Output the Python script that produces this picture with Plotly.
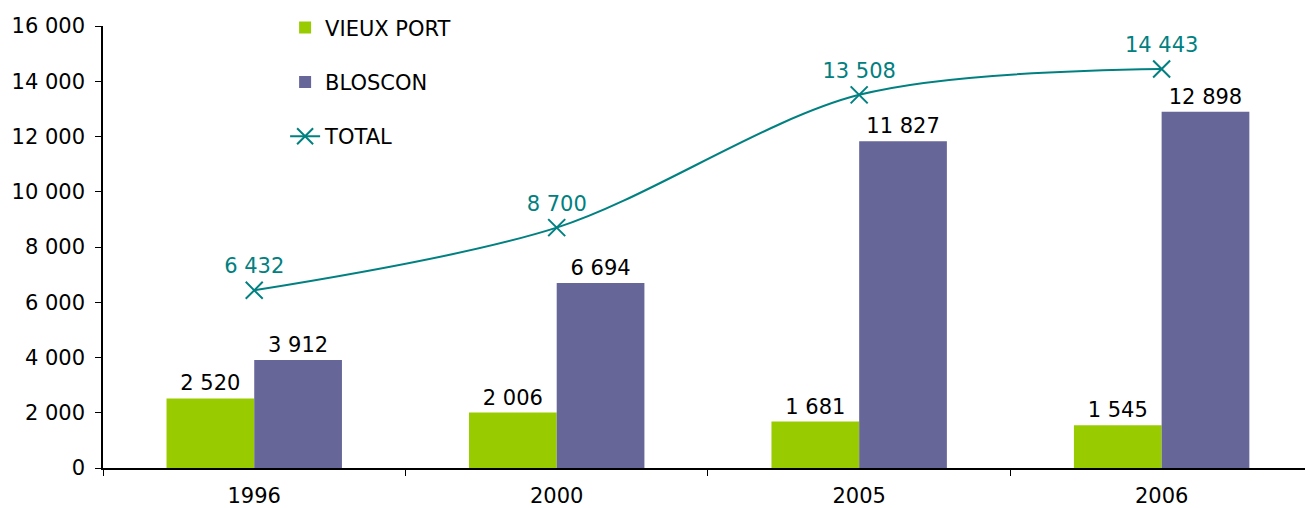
import plotly.graph_objects as go

years = ["1996", "2000", "2005", "2006"]
vieux_port = [2520, 2006, 1681, 1545]
bloscon = [3912, 6694, 11827, 12898]
total = [6432, 8700, 13508, 14443]
y_ticks = [0, 2000, 4000, 6000, 8000, 10000, 12000, 14000, 16000]

GREEN = "#99CC00"
PURPLE = "#666699"
TEAL = "#008080"
FONT = "DejaVu Sans"

fig = go.Figure()
fig.add_trace(go.Bar(
    x=years, y=vieux_port, name="VIEUX PORT",
    marker=dict(color=GREEN, line=dict(width=0)),
    texttemplate="%{y:,d}", textposition="outside",
    textfont=dict(color="black", size=21, family=FONT),
    cliponaxis=False, legendgroup="a",
))
fig.add_trace(go.Bar(
    x=years, y=bloscon, name="BLOSCON",
    marker=dict(color=PURPLE, line=dict(width=0)),
    texttemplate="%{y:,d}", textposition="outside",
    textfont=dict(color="black", size=21, family=FONT),
    cliponaxis=False, legendgroup="b",
))
fig.add_trace(go.Scatter(
    x=years, y=total, name="TOTAL", mode="lines+markers+text",
    line=dict(color=TEAL, width=2, shape="spline", smoothing=0.9),
    marker=dict(symbol="x-thin", size=17, line=dict(color=TEAL, width=2)),
    texttemplate="%{y:,d}", textposition="top center",
    textfont=dict(color=TEAL, size=21, family=FONT),
    cliponaxis=False, legendgroup="c",
))

fig.update_layout(
    width=1305, height=508,
    margin=dict(l=103, r=0, t=26, b=40, autoexpand=False),
    paper_bgcolor="white", plot_bgcolor="white",
    separators=", ",
    font=dict(family=FONT, size=21, color="black"),
    barmode="group", bargap=0.42, bargroupgap=0,
    legend=dict(
        x=0.1515, y=1.042, xanchor="left", yanchor="top",
        bgcolor="rgba(0,0,0,0)", font=dict(size=21, family=FONT),
        traceorder="grouped", tracegroupgap=24,
    ),
    showlegend=True,
)
fig.update_xaxes(
    type="category", range=[-0.5, 3.474], automargin=False,
    showline=True, linecolor="black", linewidth=1.5,
    ticks="outside", tickson="boundaries", ticklen=6, tickcolor="black",
    showgrid=False, zeroline=False, ticklabelstandoff=8,
    tickfont=dict(size=21, family=FONT),
)
fig.update_yaxes(
    range=[0, 16000], tickvals=y_ticks, tickformat=",d", automargin=False,
    showline=True, linecolor="black", linewidth=1.5,
    ticks="outside", ticklen=6, tickcolor="black",
    showgrid=False, zeroline=False, ticklabelstandoff=6,
    tickfont=dict(size=21, family=FONT),
)

fig.write_html(
    "out.html",
    config={"displayModeBar": False},
    post_script="document.body.style.margin='0';document.body.style.overflow='hidden';",
)
